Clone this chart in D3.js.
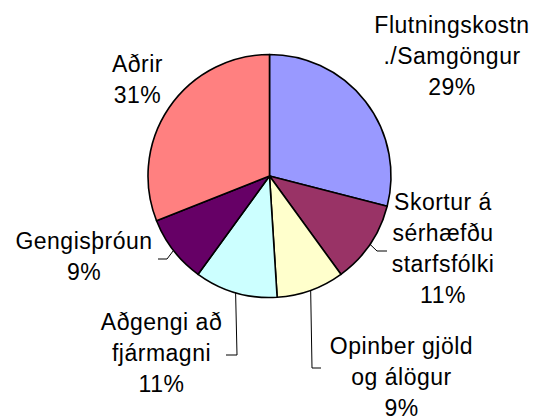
<!DOCTYPE html>
<html>
<head>
<meta charset="utf-8">
<script src="https://cdn.jsdelivr.net/npm/d3@7"></script>
<style>
  body { margin: 0; background: #fff; }
  svg { display: block; }
  .lbl { font-family: "Liberation Sans", Arial, sans-serif; font-size: 23px; letter-spacing: 0.5px; fill: #000; }
</style>
</head>
<body>
<div class="chart"></div>
<script>
// slice names (one entry per text line) and shares in %
var categories = [
  ["Flutningskostn", "./Samgöngur"],
  ["Skortur á", "sérhæfðu", "starfsfólki"],
  ["Opinber gjöld", "og álögur"],
  ["Aðgengi að", "fjármagni"],
  ["Gengisþróun"],
  ["Aðrir"]
];
var shares = [29, 11, 9, 11, 9, 31];
var colors = ["#9999FF", "#993366", "#FFFFCC", "#CCFFFF", "#660066", "#FF8080"];

var width = 536, height = 420;
var cx = 269.5, cy = 176, radius = 121.5;
var lineH = 31;

// where each label block sits (center x, first baseline) and leader bends
var labelPos = [
  { x: 452, y: 33, leader: null },
  { x: 443, y: 209.5, leader: [[377, 251], [387, 251]] },
  { x: 401.5, y: 353.5, leader: [[312, 368], [321, 368]] },
  { x: 161.5, y: 330, leader: [[237, 355], [226, 355]] },
  { x: 84, y: 248.5, leader: [[167, 259], [158, 259]] },
  { x: 137.5, y: 72, leader: null }
];

var data = shares.map(function (v, i) {
  return { name: categories[i], value: v, color: colors[i], pos: labelPos[i] };
});

var svg = d3.select(".chart").append("svg")
  .attr("width", width)
  .attr("height", height);

var g = svg.append("g").attr("transform", "translate(" + cx + "," + cy + ")");

var pie = d3.pie().sort(null).value(function (d) { return d.value; });
var arc = d3.arc().innerRadius(0).outerRadius(radius);
var edge = d3.arc().innerRadius(radius).outerRadius(radius);

var arcs = pie(data);

g.selectAll("path.slice")
  .data(arcs)
  .enter().append("path")
  .attr("class", "slice")
  .attr("d", arc)
  .attr("fill", function (d) { return d.data.color; })
  .attr("stroke", "#000")
  .attr("stroke-width", 1.6)
  .attr("stroke-linejoin", "round");

// leader lines
svg.selectAll("polyline.leader")
  .data(arcs.filter(function (d) { return d.data.pos.leader; }))
  .enter().append("polyline")
  .attr("class", "leader")
  .attr("fill", "none")
  .attr("stroke", "#000")
  .attr("stroke-width", 1)
  .attr("points", function (d) {
    var c = edge.centroid(d);
    var pts = [[c[0] + cx, c[1] + cy]].concat(d.data.pos.leader);
    return pts.map(function (p) { return p.join(","); }).join(" ");
  });

// labels
var labels = svg.selectAll("text.lbl")
  .data(arcs)
  .enter().append("text")
  .attr("class", "lbl")
  .attr("text-anchor", "middle");

labels.each(function (d) {
  var t = d3.select(this);
  var lines = d.data.name.concat([d.data.value + "%"]);
  lines.forEach(function (s, i) {
    t.append("tspan")
      .attr("x", d.data.pos.x)
      .attr("y", d.data.pos.y + i * lineH)
      .text(s);
  });
});
</script>
</body>
</html>
